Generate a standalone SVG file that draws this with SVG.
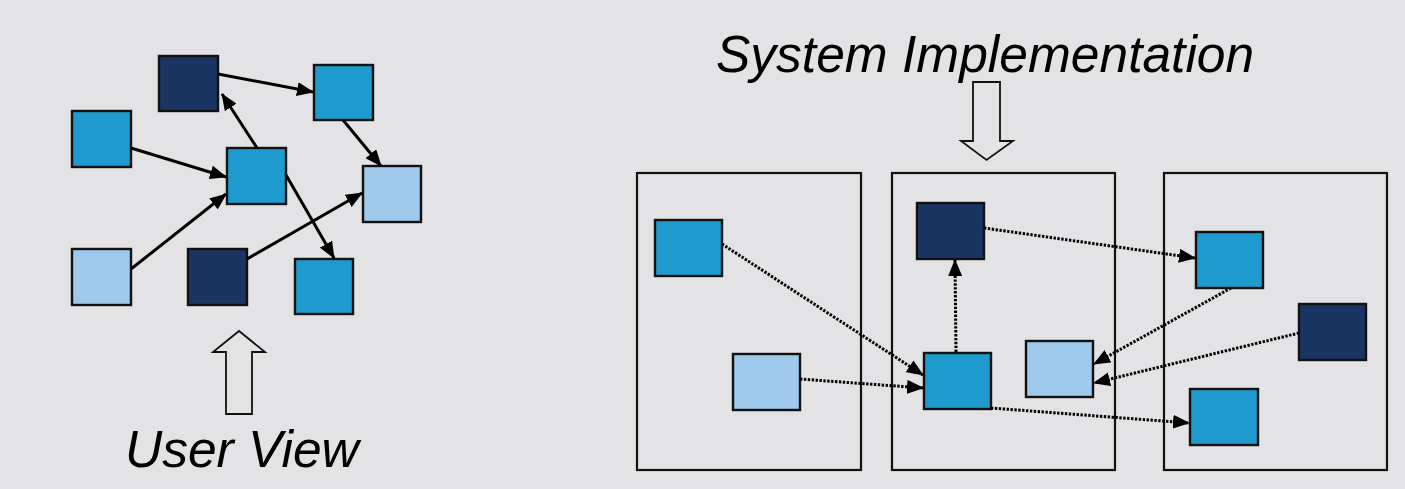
<svg xmlns="http://www.w3.org/2000/svg" width="1405" height="489" viewBox="0 0 1405 489">
  <defs>
    <style>
      .dark { fill: #1b3562; stroke: #111; stroke-width: 2.4; }
      .mid { fill: #1f9acf; stroke: #111; stroke-width: 2.4; }
      .light { fill: #9ec9eb; stroke: #111; stroke-width: 2.4; }
      .frame { fill: none; stroke: #111; stroke-width: 2.2; }
      .solid { fill: none; stroke: #000; stroke-width: 3; marker-end: url(#tip); }
      .dotted { fill: none; stroke: #000; stroke-width: 3; stroke-dasharray: 2.4 1.5; marker-end: url(#tip); }
      .hollow { fill: none; stroke: #111; stroke-width: 1.8; stroke-linejoin: miter; }
      .label { font-family: "Liberation Sans", Arial, sans-serif; font-style: italic; font-size: 51.5px; fill: #000; }
    </style>
    <marker id="tip" viewBox="0 0 17 14" markerUnits="userSpaceOnUse" markerWidth="17" markerHeight="14" refX="16" refY="7" orient="auto">
      <path d="M0,0 L17,7 L0,14 z" fill="#000"/>
    </marker>
  </defs>

  <rect width="1405" height="489" fill="#e3e2e5"/>

  <!-- left: logical graph -->
  <g id="u-dark-top"><rect class="dark" x="159" y="56" width="59" height="55"/></g>
  <g id="u-mid-topright"><rect class="mid" x="314" y="65" width="59" height="55"/></g>
  <g id="u-mid-left"><rect class="mid" x="72" y="111" width="59" height="56"/></g>
  <g id="u-mid-center"><rect class="mid" x="227" y="148" width="59" height="56"/></g>
  <g id="u-light-right"><rect class="light" x="363" y="166" width="58" height="56"/></g>
  <g id="u-light-bottomleft"><rect class="light" x="72" y="249" width="59" height="56"/></g>
  <g id="u-dark-bottom"><rect class="dark" x="188" y="249" width="59" height="56"/></g>
  <g id="u-mid-bottom"><rect class="mid" x="295" y="259" width="58" height="55"/></g>

  <!-- right: three partitions -->
  <g id="part-1"><rect class="frame" x="637" y="173" width="224" height="297"/></g>
  <g id="part-2"><rect class="frame" x="892" y="173" width="223" height="297"/></g>
  <g id="part-3"><rect class="frame" x="1164" y="173" width="223" height="297"/></g>

  <g id="s-mid-a"><rect class="mid" x="655" y="220" width="67" height="56"/></g>
  <g id="s-light-b"><rect class="light" x="733" y="354" width="67" height="56"/></g>
  <g id="s-dark-c"><rect class="dark" x="917" y="203" width="67" height="56"/></g>
  <g id="s-mid-d"><rect class="mid" x="924" y="353" width="67" height="56"/></g>
  <g id="s-light-e"><rect class="light" x="1026" y="341" width="67" height="56"/></g>
  <g id="s-mid-f"><rect class="mid" x="1196" y="232" width="67" height="56"/></g>
  <g id="s-dark-g"><rect class="dark" x="1299" y="304" width="67" height="56"/></g>
  <g id="s-mid-h"><rect class="mid" x="1190" y="389" width="68" height="56"/></g>

  <!-- connectors -->
  <g id="connectors">
    <line class="solid" x1="218" y1="74" x2="313" y2="92"/>
    <line class="solid" x1="257" y1="148" x2="222" y2="94"/>
    <line class="solid" x1="131" y1="148" x2="226" y2="177"/>
    <line class="solid" x1="131" y1="269" x2="226" y2="194"/>
    <line class="solid" x1="247" y1="259" x2="362" y2="193"/>
    <line class="solid" x1="286" y1="175" x2="334" y2="258"/>
    <line class="solid" x1="343" y1="120" x2="381" y2="166"/>

    <line class="dotted" x1="722" y1="244" x2="923" y2="375"/>
    <line class="dotted" x1="800" y1="379" x2="923" y2="388"/>
    <line class="dotted" x1="956" y1="352" x2="955" y2="260"/>
    <line class="dotted" x1="984" y1="228" x2="1195" y2="258"/>
    <line class="dotted" x1="1231" y1="288" x2="1094" y2="364"/>
    <line class="dotted" x1="1299" y1="333" x2="1094" y2="383"/>
    <line class="dotted" x1="991" y1="408" x2="1189" y2="423"/>
  </g>

  <!-- hollow block arrows -->
  <g id="arrow-up">
    <path class="hollow" d="M226,414 L226,352 L213,352 L239,331 L265,352 L252,352 L252,414 Z"/>
  </g>
  <g id="arrow-down">
    <path class="hollow" d="M973,82 L1000,82 L1000,141 L1013,141 L986.5,160 L961,141 L973,141 Z"/>
  </g>

  <!-- captions -->
  <g id="caption-user"><text class="label" x="125" y="467">User View</text></g>
  <g id="caption-system"><text class="label" x="716" y="72">System Implementation</text></g>
</svg>
